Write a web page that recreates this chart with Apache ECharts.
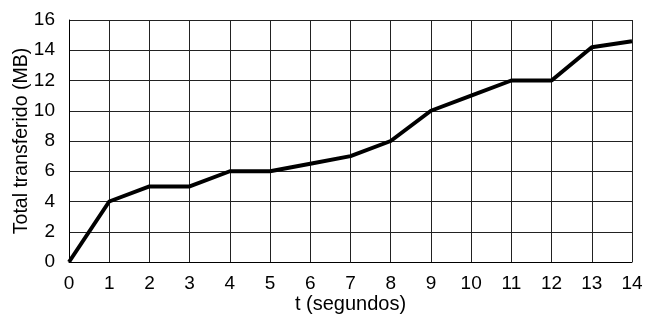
<!DOCTYPE html>
<html>
<head>
<meta charset="utf-8">
<script src="https://cdn.jsdelivr.net/npm/echarts@6/dist/echarts.min.js"></script>
<style>html,body{margin:0;padding:0;background:#fff}#c{width:645px;height:316px}</style>
</head>
<body>
<div id="c"></div>
<script>
const tSeconds = [0, 1, 2, 3, 4, 5, 6, 7, 8, 9, 10, 11, 12, 13, 14];
const totalMB = [0, 4, 5, 5, 6, 6, 6.5, 7, 8, 10, 11, 12, 12, 14.2, 14.6];
const xName = 't (segundos)';
const yName = 'Total transferido (MB)';

const chart = echarts.init(document.getElementById('c'), null, {renderer: 'canvas'});
const font = 'Liberation Sans, Arial, sans-serif';
chart.setOption({
  animation: false,
  backgroundColor: '#fff',
  grid: {left: 69, right: 13, top: 20, bottom: 54, containLabel: false, outerBoundsMode: 'none'},
  xAxis: {
    type: 'value', min: 0, max: 14, interval: 1,
    name: xName, nameLocation: 'middle', nameGap: 32, nameMoveOverlap: false,
    nameTextStyle: {color: '#000', fontSize: 20, fontFamily: font},
    axisLine: {show: true, lineStyle: {color: '#000', width: 1}},
    axisTick: {show: false},
    axisLabel: {color: '#000', fontSize: 19, fontFamily: font, margin: 12},
    splitLine: {show: true, lineStyle: {color: '#222', width: 1}}
  },
  yAxis: {
    type: 'value', min: 0, max: 16, interval: 2,
    name: yName, nameLocation: 'middle', nameGap: 37, nameRotate: 90, nameMoveOverlap: false,
    nameTextStyle: {color: '#000', fontSize: 19.5, fontFamily: font},
    axisLine: {show: true, lineStyle: {color: '#000', width: 1}},
    axisTick: {show: false},
    axisLabel: {color: '#000', fontSize: 19, fontFamily: font, margin: 14},
    splitLine: {show: true, lineStyle: {color: '#222', width: 1}}
  },
  series: [{
    type: 'line',
    data: tSeconds.map((t, i) => [t, totalMB[i]]),
    symbol: 'none',
    lineStyle: {color: '#000', width: 4},
    clip: false
  }]
});
</script>
</body>
</html>
